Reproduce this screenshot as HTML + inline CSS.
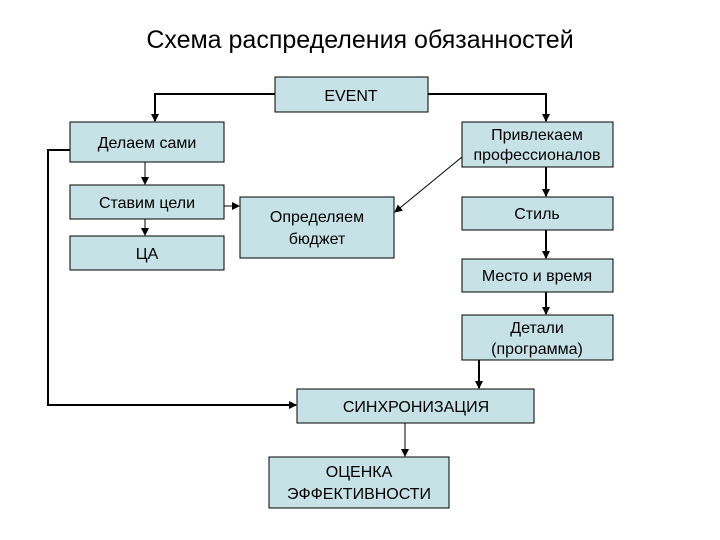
<!DOCTYPE html>
<html><head><meta charset="utf-8"><style>
html,body{margin:0;padding:0;background:#fff;}
svg{display:block;}
text{font-family:"Liberation Sans",sans-serif;fill:#000;}
</style></head><body>
<svg width="720" height="540" viewBox="0 0 720 540" xmlns="http://www.w3.org/2000/svg">
<defs>
<marker id="a" markerWidth="8" markerHeight="8" refX="7" refY="4" orient="auto" markerUnits="userSpaceOnUse">
<path d="M0,0 L8,4 L0,8 z" fill="#000"/></marker>
</defs>
<text x="360" y="48" font-size="25" text-anchor="middle">Схема распределения обязанностей</text>
<g fill="#c6e2e6" stroke="#000" stroke-width="1">
<rect x="275" y="77" width="153" height="35"/>
<rect x="70" y="122" width="154" height="40"/>
<rect x="70" y="185" width="154" height="34"/>
<rect x="70" y="236" width="154" height="34"/>
<rect x="240" y="197" width="154" height="61"/>
<rect x="462" y="122" width="151" height="45"/>
<rect x="462" y="197" width="151" height="33"/>
<rect x="462" y="259" width="151" height="33"/>
<rect x="462" y="315" width="151" height="45"/>
<rect x="297" y="389" width="237" height="34"/>
<rect x="269" y="457" width="180" height="51"/>
</g>
<g stroke="#000" fill="none" stroke-width="2">
<polyline points="275,94 155,94 155,121" marker-end="url(#a)"/>
<polyline points="428,94 546,94 546,121" marker-end="url(#a)"/>
<polyline points="70,150 48,150 48,405 296,405" marker-end="url(#a)"/>
<line x1="546" y1="167" x2="546" y2="196" marker-end="url(#a)"/>
<line x1="546" y1="230" x2="546" y2="258" marker-end="url(#a)"/>
<line x1="546" y1="292" x2="546" y2="314" marker-end="url(#a)"/>
<line x1="479" y1="360" x2="479" y2="388" marker-end="url(#a)"/>
</g>
<g stroke="#000" fill="none" stroke-width="1">
<line x1="145" y1="162" x2="145" y2="184" marker-end="url(#a)"/>
<line x1="145" y1="219" x2="145" y2="235" marker-end="url(#a)"/>
<line x1="224" y1="206" x2="239" y2="206" marker-end="url(#a)"/>
<line x1="462" y1="157" x2="395" y2="212" marker-end="url(#a)"/>
<line x1="405" y1="423" x2="405" y2="456" marker-end="url(#a)"/>
</g>
<g font-size="16" text-anchor="middle">
<text x="351" y="101">EVENT</text>
<text x="147" y="148">Делаем сами</text>
<text x="147" y="208">Ставим цели</text>
<text x="147" y="259">ЦА</text>
<text x="317" y="222">Определяем</text>
<text x="317" y="244">бюджет</text>
<text x="537" y="140">Привлекаем</text>
<text x="537" y="160">профессионалов</text>
<text x="537" y="219">Стиль</text>
<text x="537" y="281">Место и время</text>
<text x="537" y="333">Детали</text>
<text x="537" y="354">(программа)</text>
<text x="416" y="412">СИНХРОНИЗАЦИЯ</text>
<text x="359" y="477">ОЦЕНКА</text>
<text x="359" y="499">ЭФФЕКТИВНОСТИ</text>
</g>
</svg>
</body></html>
